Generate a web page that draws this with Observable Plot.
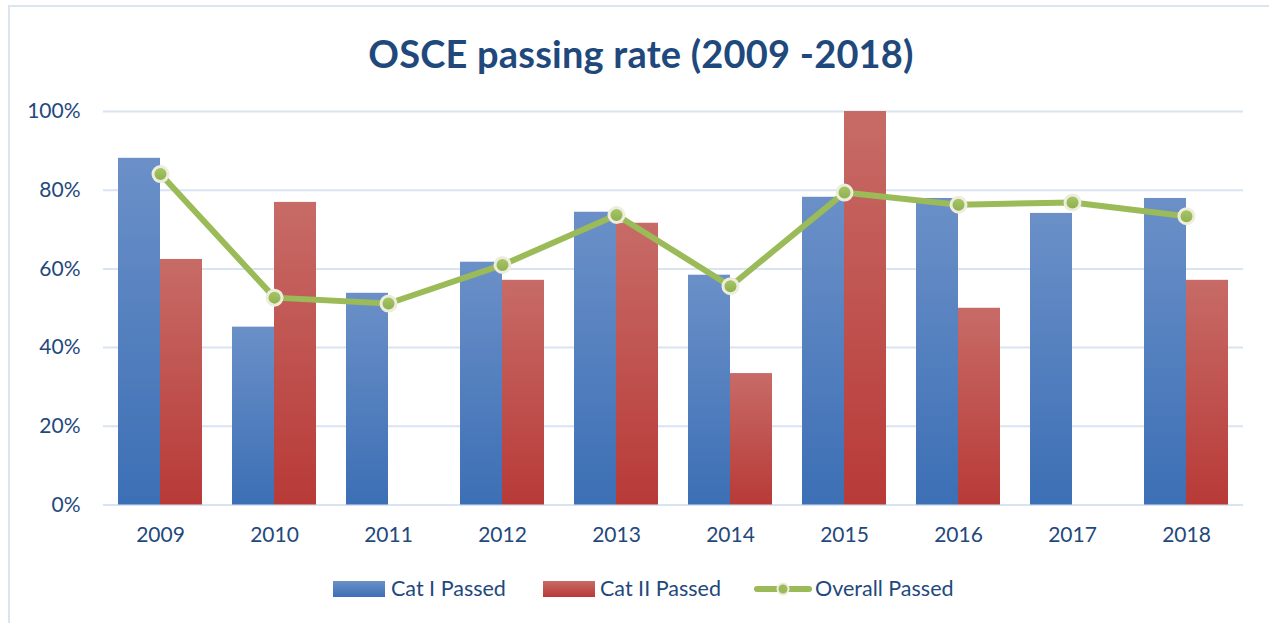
<!DOCTYPE html>
<html>
<head>
<meta charset="utf-8">
<script src="https://cdn.jsdelivr.net/npm/d3@7"></script>
<script src="https://cdn.jsdelivr.net/npm/@observablehq/plot@0.6"></script>
<style>
  html, body { margin: 0; padding: 0; background: #fff; }
  #wrap { position: relative; width: 1269px; height: 623px; overflow: hidden; font-family: Lato, "Open Sans", sans-serif; color: #1F497D; }
  #border { position: absolute; left: 8px; top: 5px; width: 1300px; height: 700px; border: 2px solid #dbe5f1; box-sizing: border-box; pointer-events: none; }
  #title { height: 90px; box-sizing: border-box; padding-top: 33px; line-height: 40px; font-size: 38px; font-weight: bold; text-align: center; width: 1282px; letter-spacing: 0.2px; }
  #chart { position: absolute; left: 0; top: 90px; }
  .leg { position: absolute; font-size: 21.5px; line-height: 28px; top: 574px; white-space: nowrap; }
  .sw { position: absolute; top: 581px; height: 16px; width: 52px; }
</style>
</head>
<body>
<div id="wrap">
  <div id="border"></div>
  <div id="title">OSCE passing rate (2009 -2018)</div>
  <div id="chart"></div>
  <div id="legend"></div>
</div>
<script>
const years = ["2009", "2010", "2011", "2012", "2013", "2014", "2015", "2016", "2017", "2018"];
const catI = [88.1, 45.2, 53.8, 61.7, 74.4, 58.4, 78.2, 77.9, 74.1, 77.9];
const catII = [62.4, 76.9, null, 57.1, 71.6, 33.4, 100, 50.0, null, 57.1];
const overall = [84.1, 52.7, 51.2, 61.0, 73.7, 55.6, 79.4, 76.3, 76.9, 73.4];
const yTicks = [0, 20, 40, 60, 80, 100];
const seriesNames = ["Cat I Passed", "Cat II Passed", "Overall Passed"];

const rowsI = years.map((year, i) => ({year, value: catI[i]})).filter(d => d.value != null);
const rowsII = years.map((year, i) => ({year, value: catII[i]})).filter(d => d.value != null);
const rowsO = years.map((year, i) => ({year, value: overall[i]}));

const textColor = "#1F497D";
const gridColor = "#d9e4f2";

const svg = Plot.plot({
  width: 1269,
  height: 460,
  marginTop: 21,
  marginBottom: 45.5,
  marginLeft: 103,
  marginRight: 26,
  style: {fontFamily: "Lato, 'Open Sans', sans-serif", fontSize: "21px", color: textColor, background: "transparent"},
  x: {type: "band", domain: years, paddingInner: 0.263, paddingOuter: 0.131, label: null},
  y: {domain: [0, 100], label: null},
  marks: [
    Plot.gridY(yTicks, {stroke: gridColor, strokeOpacity: 1, strokeWidth: 2}),
    Plot.barY(rowsI, {x: "year", y: "value", fill: "url(#gBlue)", insetRight: 42}),
    Plot.barY(rowsII, {x: "year", y: "value", fill: "url(#gRed)", insetLeft: 42}),
    Plot.line(rowsO, {x: "year", y: "value", stroke: "#9bbb59", strokeWidth: 6}),
    Plot.dot(rowsO, {x: "year", y: "value", r: 7.5, fill: "url(#gGreen)", stroke: "#eeecdc", strokeWidth: 3}),
    Plot.axisX({tickSize: 0, tickPadding: 22, fontSize: 21, fill: textColor}),
    Plot.axisY(yTicks, {tickSize: 0, tickPadding: 23, fontSize: 21, fill: textColor, tickFormat: d => d + "%"})
  ]
});

const defs = d3.select(svg).insert("defs", ":first-child");
function grad(id, top, bottom) {
  const g = defs.append("linearGradient").attr("id", id).attr("x1", 0).attr("y1", 0).attr("x2", 0).attr("y2", 1);
  g.append("stop").attr("offset", "0%").attr("stop-color", top);
  g.append("stop").attr("offset", "100%").attr("stop-color", bottom);
}
grad("gBlue", "#6b90c8", "#3c6fb5");
grad("gRed", "#c76b67", "#b83a37");
grad("gGreen", "#a8c86a", "#8dae4b");

document.getElementById("chart").appendChild(svg);

// Legend
const legend = document.getElementById("legend");
const legItems = [
  {kind: "swatch", left: 333, bg: "linear-gradient(#6b90c8, #3c6fb5)", textLeft: 391, label: seriesNames[0]},
  {kind: "swatch", left: 543, bg: "linear-gradient(#c76b67, #b83a37)", textLeft: 600, label: seriesNames[1]},
  {kind: "line", left: 755, textLeft: 815, label: seriesNames[2]}
];
legItems.forEach(it => {
  if (it.kind === "swatch") {
    const s = document.createElement("div");
    s.className = "sw";
    s.style.left = it.left + "px";
    s.style.background = it.bg;
    legend.appendChild(s);
  } else {
    const ns = "http://www.w3.org/2000/svg";
    const ls = document.createElementNS(ns, "svg");
    ls.setAttribute("width", 58);
    ls.setAttribute("height", 20);
    ls.style.position = "absolute";
    ls.style.left = (it.left - 1) + "px";
    ls.style.top = "579px";
    const ln = document.createElementNS(ns, "line");
    ln.setAttribute("x1", 3); ln.setAttribute("x2", 55); ln.setAttribute("y1", 10); ln.setAttribute("y2", 10);
    ln.setAttribute("stroke", "#9bbb59"); ln.setAttribute("stroke-width", 6); ln.setAttribute("stroke-linecap", "round");
    const c = document.createElementNS(ns, "circle");
    c.setAttribute("cx", 29); c.setAttribute("cy", 10); c.setAttribute("r", 5.5);
    c.setAttribute("fill", "#9bbb59"); c.setAttribute("stroke", "#eeecdc"); c.setAttribute("stroke-width", 2);
    ls.appendChild(ln); ls.appendChild(c);
    legend.appendChild(ls);
  }
  const t = document.createElement("div");
  t.className = "leg";
  t.style.left = it.textLeft + "px";
  t.textContent = it.label;
  legend.appendChild(t);
});
</script>
</body>
</html>
